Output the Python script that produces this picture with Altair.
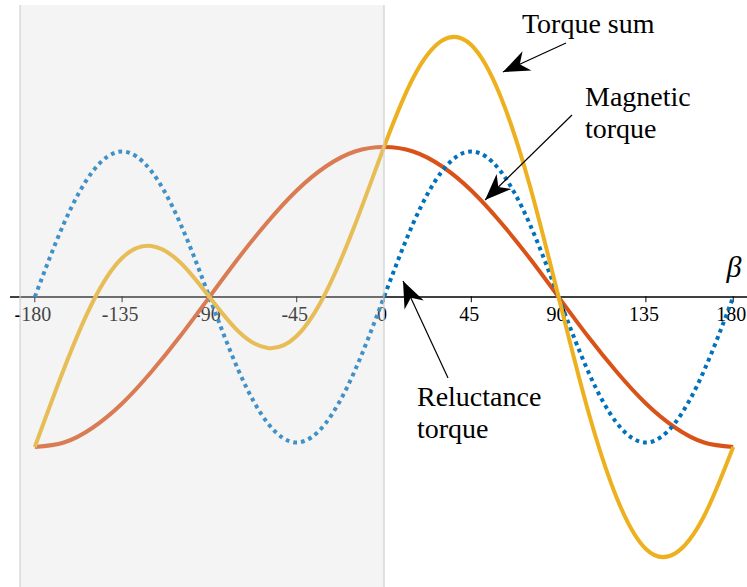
import math

import altair as alt
import pandas as pd

# Load angle beta in degrees, sampled every 15 degrees
beta = [-180, -165, -150, -135, -120, -105, -90, -75, -60, -45, -30, -15, 0,
        15, 30, 45, 60, 75, 90, 105, 120, 135, 150, 165, 180]

# Per-unit torque curves
magnetic = [-1.00, -0.97, -0.87, -0.71, -0.50, -0.26, 0.00, 0.26, 0.50, 0.71, 0.87, 0.97, 1.00,
            0.97, 0.87, 0.71, 0.50, 0.26, 0.00, -0.26, -0.50, -0.71, -0.87, -0.97, -1.00]
reluctance = [0.00, 0.49, 0.84, 0.97, 0.84, 0.49, 0.00, -0.49, -0.84, -0.97, -0.84, -0.49, 0.00,
              0.49, 0.84, 0.97, 0.84, 0.49, 0.00, -0.49, -0.84, -0.97, -0.84, -0.49, 0.00]
torque_sum = [-1.00, -0.48, -0.03, 0.26, 0.34, 0.23, 0.00, -0.23, -0.34, -0.26, 0.03, 0.48, 1.00,
              1.46, 1.71, 1.68, 1.34, 0.75, 0.00, -0.75, -1.34, -1.68, -1.71, -1.46, -1.00]

tick_values = [-180, -135, -90, -45, 0, 45, 90, 135, 180]
tick_labels = ["-180", "-135", "-90", "-45", "0", "45", "90", "135", "180"]

# Callout labels (left edge x, baseline y)
label_text = ["Torque sum", "Magnetic", "torque", "Reluctance", "torque"]
label_x = [71.1, 103.6, 103.6, 17.0, 17.0]
label_y = [1.76, 1.273, 1.06, -0.727, -0.94]

# Callout arrows: tail -> tip
arrow_x1 = [93.8, 96.9, 33.0]
arrow_y1 = [1.693, 1.213, -0.54]
arrow_x2 = [61.3, 52.1, 9.8]
arrow_y2 = [1.50, 0.647, 0.107]

W, H = 747, 587
X_DOMAIN = [-197.94, 187.11]
Y_DOMAIN = [-1.9333, 1.98]

xs = alt.Scale(domain=X_DOMAIN, nice=False, zero=False)
ys = alt.Scale(domain=Y_DOMAIN, nice=False, zero=False)

PX_X = W / (X_DOMAIN[1] - X_DOMAIN[0])
PX_Y = H / (Y_DOMAIN[1] - Y_DOMAIN[0])

SERIF = "Liberation Serif"


def curve(values, color, dash=None):
    df = pd.DataFrame({"beta": beta, "value": values})
    kw = dict(color=color, strokeWidth=4, interpolate="natural")
    if dash:
        kw.update(strokeDash=dash, strokeCap="butt")
    return alt.Chart(df).mark_line(**kw).encode(
        x=alt.X("beta:Q", scale=xs, axis=None),
        y=alt.Y("value:Q", scale=ys, axis=None),
    )


mag_line = curve(magnetic, "#D95319")
rel_line = curve(reluctance, "#0072BD", dash=[3.8, 4])
sum_line = curve(torque_sum, "#EDB120")

# Horizontal beta axis
axis_df = pd.DataFrame({"x1": [-192.8], "x2": [X_DOMAIN[1]], "y": [0.0]})
axis_line = alt.Chart(axis_df).mark_rule(color="black", strokeWidth=1.3).encode(
    x=alt.X("x1:Q", scale=xs, axis=None), x2="x2:Q",
    y=alt.Y("y:Q", scale=ys, axis=None),
)

ticks_df = pd.DataFrame({"t": tick_values, "label": tick_labels,
                         "y1": [0.005] * len(tick_values),
                         "y2": [-0.035] * len(tick_values),
                         "ly": [-0.157] * len(tick_values)})
tick_marks = alt.Chart(ticks_df).mark_rule(color="black", strokeWidth=1).encode(
    x=alt.X("t:Q", scale=xs, axis=None),
    y=alt.Y("y1:Q", scale=ys, axis=None), y2="y2:Q",
)
tick_text = alt.Chart(ticks_df).mark_text(
    font=SERIF, fontSize=20, color="black", align="center", baseline="alphabetic", dx=-2
).encode(
    x=alt.X("t:Q", scale=xs, axis=None),
    y=alt.Y("ly:Q", scale=ys, axis=None),
    text="label:N",
)

beta_df = pd.DataFrame({"x": [180.4], "y": [0.133], "t": ["β"]})
beta_text = alt.Chart(beta_df).mark_text(
    font=SERIF, fontStyle="italic", fontSize=30, color="black",
    align="center", baseline="alphabetic",
).encode(
    x=alt.X("x:Q", scale=xs, axis=None),
    y=alt.Y("y:Q", scale=ys, axis=None),
    text="t:N",
)

# Shaded half-plane for negative beta
shade_df = pd.DataFrame({"x1": [-187.6], "x2": [0.0], "y1": [Y_DOMAIN[0]], "y2": [1.9467]})
shade = alt.Chart(shade_df).mark_rect(color="#dcdcdc", opacity=0.3).encode(
    x=alt.X("x1:Q", scale=xs, axis=None), x2="x2:Q",
    y=alt.Y("y1:Q", scale=ys, axis=None), y2="y2:Q",
)
edge_df = pd.DataFrame({"x": [-187.6, 0.0], "y1": [Y_DOMAIN[0]] * 2, "y2": [1.9467] * 2})
shade_edges = alt.Chart(edge_df).mark_rule(color="#cfcfcf", strokeWidth=1.2).encode(
    x=alt.X("x:Q", scale=xs, axis=None),
    y=alt.Y("y1:Q", scale=ys, axis=None), y2="y2:Q",
)

# Callouts
labels_df = pd.DataFrame({"x": label_x, "y": label_y, "t": label_text})
labels = alt.Chart(labels_df).mark_text(
    font=SERIF, fontSize=28, color="black", align="left", baseline="alphabetic"
).encode(
    x=alt.X("x:Q", scale=xs, axis=None),
    y=alt.Y("y:Q", scale=ys, axis=None),
    text="t:N",
)

angles = []
for xa, ya, xb, yb in zip(arrow_x1, arrow_y1, arrow_x2, arrow_y2):
    dx = (xb - xa) * PX_X
    dy = -(yb - ya) * PX_Y
    angles.append(math.degrees(math.atan2(dx, -dy)) % 360)

arrows_df = pd.DataFrame({"x1": arrow_x1, "y1": arrow_y1,
                          "x2": arrow_x2, "y2": arrow_y2, "angle": angles})
arrow_shafts = alt.Chart(arrows_df).mark_rule(color="black", strokeWidth=1.2).encode(
    x=alt.X("x1:Q", scale=xs, axis=None), x2="x2:Q",
    y=alt.Y("y1:Q", scale=ys, axis=None), y2="y2:Q",
)
HEAD = "M0,0 L-0.8,2 L0,1.4 L0.8,2 Z"
arrow_heads = alt.Chart(arrows_df).mark_point(
    shape=HEAD, filled=True, size=700, color="black", opacity=1, strokeWidth=0
).encode(
    x=alt.X("x2:Q", scale=xs, axis=None),
    y=alt.Y("y2:Q", scale=ys, axis=None),
    angle=alt.Angle("angle:Q", scale=None),
)

chart = alt.layer(
    axis_line, tick_marks, tick_text,
    mag_line, rel_line, sum_line,
    shade, shade_edges,
    beta_text, labels, arrow_shafts, arrow_heads,
).properties(
    width=W, height=H, padding=0, autosize="none", background="white"
).configure_view(stroke=None)

chart.save("out.html", embed_options={"renderer": "svg", "actions": False})
